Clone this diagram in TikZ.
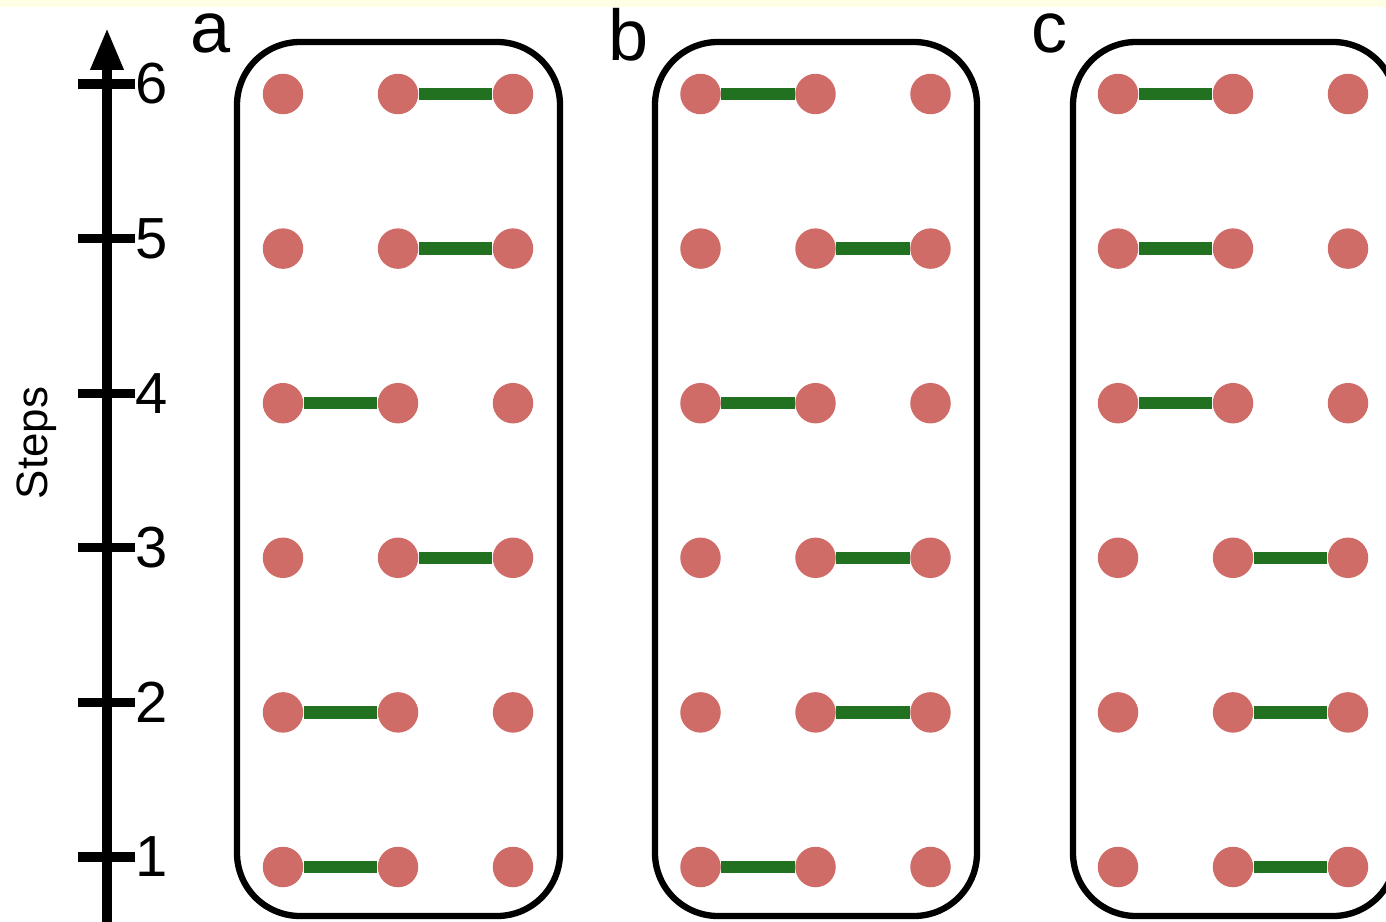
\documentclass[tikz,border=0pt]{standalone}
\usepackage{fontspec}
\setmainfont{Liberation Sans}
\usepackage{xcolor}
\usetikzlibrary{arrows.meta,positioning}

\definecolor{sitered}{HTML}{D06C68}
\definecolor{bondgreen}{HTML}{217121}
\definecolor{stripyellow}{HTML}{FFFDE4}

\tikzset{
  site/.style={circle,fill=sitered,minimum size=0.81cm,inner sep=0pt},
  bond/.style={bondgreen,line width=7pt},
  panel/.style={line width=3.6pt,rounded corners=1.26cm},
  ticklabel/.style={anchor=west,inner sep=0pt,font=\fontsize{33}{33}\selectfont},
  panellabel/.style={anchor=base,inner sep=0pt,font=\fontsize{41}{41}\selectfont}
}

\begin{document}
\begin{tikzpicture}[x=0.02cm,y=-0.02cm,>=latex]
  \useasboundingbox (0,0) rectangle (1386,922);
  \fill[stripyellow] (0,0) rectangle (1386,7);

  % time axis
  \draw[line width=5.5pt,-{Triangle[length=0.84cm,width=0.62cm]}] (107,935)--(107,28);
  \foreach \r in {1,...,6}{
    \draw[line width=5.2pt] (78,{857-154.6*(\r-1)})--(135,{857-154.6*(\r-1)});
    \node[ticklabel] (tick\r) at (135,{857-154.6*(\r-1)}) {\r};
  }
  \node[rotate=90,font=\fontsize{25}{25}\selectfont] (steps) at (37,443) {Steps};

  % panels
  \draw[panel] (237,42) rectangle (560,916);
  \draw[panel] (655,42) rectangle (977,916);
  \draw[panel] (1073,42) rectangle (1396,916);
  \node[panellabel] (la) at (211,53) {a};
  \node[panellabel] (lb) at (629,61) {b};
  \node[panellabel] (lc) at (1049,53) {c};

  % sites
  \foreach \p/\px in {a/0,b/1,c/2}
    \foreach \r in {1,...,6}
      \foreach \c in {1,2,3}
        \node[site] (\p\r\c) at ({283+417.5*\px+115*(\c-1)},{867-154.6*(\r-1)}) {};

  % bonds
  \foreach \p/\r/\c/\d in {a/6/2/3,a/5/2/3,a/4/1/2,a/3/2/3,a/2/1/2,a/1/1/2,
                           b/6/1/2,b/5/2/3,b/4/1/2,b/3/2/3,b/2/2/3,b/1/1/2,
                           c/6/1/2,c/5/1/2,c/4/1/2,c/3/2/3,c/2/2/3,c/1/2/3}
    \draw[bond] (\p\r\c)--(\p\r\d);
\end{tikzpicture}
\end{document}
